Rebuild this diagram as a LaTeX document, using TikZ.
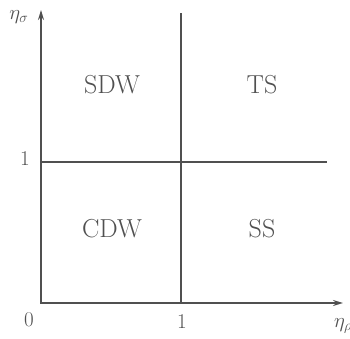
\documentclass[tikz,border=0pt]{standalone}
\usetikzlibrary{arrows.meta}
\definecolor{ink}{RGB}{80,80,80}
\begin{document}
\begin{tikzpicture}[x=1pt,y=1pt,
  axis/.style={draw=ink,line width=1.6pt,-{Stealth[length=10pt,width=6pt]}},
  divline/.style={draw=ink,line width=1.3pt},
  lbl/.style={text=ink,font=\fontsize{26}{30}\selectfont,inner sep=0pt},
  tick/.style={text=ink,font=\fontsize{21}{25}\selectfont,inner sep=0pt}]
\useasboundingbox (0,0) rectangle (350,339);
\clip (0,0) rectangle (350,339);
\coordinate (O) at (41,36);
\coordinate (Xend) at (343,36);
\coordinate (Yend) at (41,329);
\coordinate (V0) at (181,36);
\coordinate (V1) at (181,326);
\coordinate (H0) at (41,177);
\coordinate (H1) at (327,177);
\draw[divline] (V0) -- (V1);
\draw[divline] (H0) -- (H1);
\draw[axis] (O) -- (Xend);
\draw[axis] ([yshift=-0.8pt]O) -- (Yend);
\node[lbl] (sdw) at (112,254) {SDW};
\node[lbl] (ts) at (262,254) {TS};
\node[lbl] (cdw) at (112,110) {CDW};
\node[lbl] (ss) at (262,110) {SS};
\node[tick] (zero) at (29,19) {0};
\node[tick] (onex) at (182,17) {1};
\node[tick] (oney) at (25,180) {1};
\node[tick,anchor=west] (etar) at (334,13) {$\eta_\rho$};
\node[tick] (etas) at (19,322) {$\eta_\sigma$};
\end{tikzpicture}
\end{document}
